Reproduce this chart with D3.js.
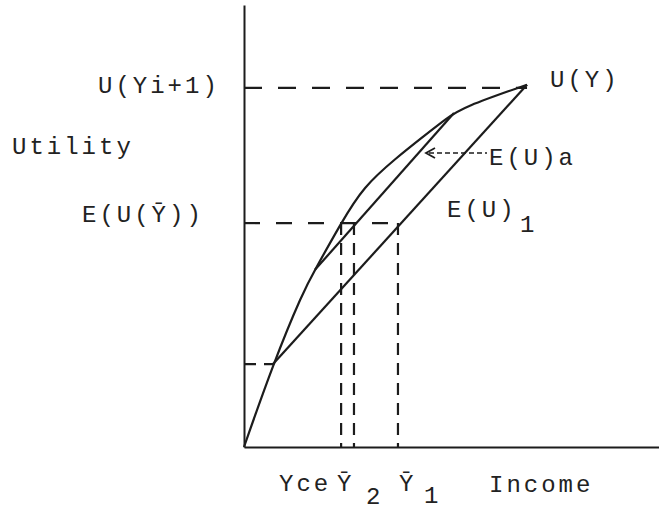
<!DOCTYPE html>
<html>
<head>
<meta charset="utf-8">
<script src="https://cdn.jsdelivr.net/npm/d3@7"></script>
<style>
  html, body { margin: 0; padding: 0; background: #fff; }
  svg { display: block; }
  .label { font-family: "Liberation Mono", "DejaVu Sans Mono", monospace;
           font-size: 24px; letter-spacing: 3px; fill: #222; }
</style>
</head>
<body>
<script>
/*
 * Utility of income: concave utility curve with two chords (expected utility)
 * and the certainty equivalent / mean income guide lines.
 */

// canvas
const CANVAS_WIDTH = 659;
const CANVAS_HEIGHT = 512;
const ORIGIN_X = 244;
const ORIGIN_Y = 447;
const INK = '#1c1c1c';

// the utility curve U(Y) (income, utility)
const CURVE_INCOME = [0, 7.0, 14.2, 17.1, 23.4, 28.7, 36.9, 43.1, 48.9, 52.8, 68.2];
const CURVE_UTILITY = [0, 22.9, 42.8, 48.9, 61.8, 71.8, 80.0, 85.6, 90.8, 93.8, 100];

// chord E(U)1 and chord E(U)a (end points on the curve)
const CHORD_1_INCOME = [7.0, 68.2];
const CHORD_1_UTILITY = [22.9, 100];
const CHORD_A_INCOME = [17.1, 50.6];
const CHORD_A_UTILITY = [48.9, 92.2];

// guide levels
const U_TOP = 99.1;      // U(Yi+1)
const EU_MEAN = 61.8;    // E(U(Y bar))
const U_LOW = 22.9;      // lower end of chord 1
const Y_CE = 23.4;       // certainty equivalent
const Y_BAR_2 = 26.5;
const Y_BAR_1 = 37.1;

// scales
const xScale = d3.scaleLinear()
    .domain([0, 100])
    .range([ORIGIN_X, CANVAS_WIDTH]);

const yScale = d3.scaleLinear()
    .domain([0, 122])
    .range([ORIGIN_Y, 5]);

const svg = d3.select('body')
  .append('svg')
    .attr('width', CANVAS_WIDTH)
    .attr('height', CANVAS_HEIGHT);

/*
 * Axes (plain lines, no ticks).
 */

const addAxes = () => {
  svg.append('g')
      .attr('transform', `translate(0, ${ORIGIN_Y})`)
      .call(d3.axisBottom(xScale).ticks(0).tickSizeOuter(0))
      .call(g => g.select('.domain')
        .attr('stroke', INK)
        .attr('stroke-width', 2));

  svg.append('g')
      .attr('transform', `translate(${ORIGIN_X}, 0)`)
      .call(d3.axisLeft(yScale).ticks(0).tickSizeOuter(0))
      .call(g => g.select('.domain')
        .attr('stroke', INK)
        .attr('stroke-width', 2));
};

/*
 * Dashed guide lines.
 */

const addGuides = () => {
  const hGuides = [
    { y: U_TOP, x1: 0, x2: CURVE_INCOME[CURVE_INCOME.length - 1], dash: '18,16' },
    { y: EU_MEAN, x1: 0, x2: Y_BAR_1, dash: '16,16' },
    { y: U_LOW, x1: 0, x2: CHORD_1_INCOME[0], dash: '12,8' }
  ];

  svg.selectAll('.hguide')
    .data(hGuides)
    .enter()
    .append('line')
      .attr('class', 'hguide')
      .attr('x1', d => xScale(d.x1))
      .attr('x2', d => xScale(d.x2))
      .attr('y1', d => yScale(d.y))
      .attr('y2', d => yScale(d.y))
      .attr('stroke', INK)
      .attr('stroke-width', 2.2)
      .attr('stroke-dasharray', d => d.dash);

  svg.selectAll('.vguide')
    .data([Y_CE, Y_BAR_2, Y_BAR_1])
    .enter()
    .append('line')
      .attr('class', 'vguide')
      .attr('x1', d => xScale(d))
      .attr('x2', d => xScale(d))
      .attr('y1', yScale(EU_MEAN))
      .attr('y2', yScale(0))
      .attr('stroke', INK)
      .attr('stroke-width', 2.2)
      .attr('stroke-dasharray', '12,8');
};

/*
 * Utility curve and the two chords.
 */

const addCurves = () => {
  // smooth the hand-drawn curve through the points
  const curveLine = d3.line()
      .x(d => xScale(d[0]))
      .y(d => yScale(d[1]))
      .curve(d3.curveBasis);

  svg.append('path')
      .datum(d3.zip(CURVE_INCOME, CURVE_UTILITY))
      .attr('d', curveLine)
      .attr('fill', 'none')
      .attr('stroke', INK)
      .attr('stroke-width', 2.2);

  const chordLine = d3.line()
      .x(d => xScale(d[0]))
      .y(d => yScale(d[1]));

  [[CHORD_1_INCOME, CHORD_1_UTILITY], [CHORD_A_INCOME, CHORD_A_UTILITY]]
    .forEach(([xs, ys]) => {
      svg.append('path')
          .datum(d3.zip(xs, ys))
          .attr('d', chordLine)
          .attr('fill', 'none')
          .attr('stroke', INK)
          .attr('stroke-width', 2.2);
    });

  // dotted pointer to chord E(U)a
  svg.append('line')
      .attr('x1', 429).attr('x2', 487)
      .attr('y1', 153).attr('y2', 153)
      .attr('stroke', INK)
      .attr('stroke-width', 1.6)
      .attr('stroke-dasharray', '5,3');

  svg.append('path')
      .attr('d', 'M435,148 L426,153 L435,158')
      .attr('fill', 'none')
      .attr('stroke', INK)
      .attr('stroke-width', 1.8);
};

/*
 * Text labels.
 */

const addLabels = () => {
  const labels = [
    { x: 98, y: 93, t: 'U(Yi+1)' },
    { x: 12, y: 154, t: 'Utility' },
    { x: 82, y: 222, t: 'E(U(Ȳ))' },
    { x: 550, y: 87, t: 'U(Y)' },
    { x: 489, y: 165, t: 'E(U)a' },
    { x: 447, y: 217, t: 'E(U)' },
    { x: 520, y: 232, t: '1' },
    { x: 279, y: 491, t: 'Yce' },
    { x: 337, y: 491, t: 'Ȳ' },
    { x: 366, y: 504, t: '2' },
    { x: 399, y: 491, t: 'Ȳ' },
    { x: 424, y: 503, t: '1' },
    { x: 489, y: 492, t: 'Income' }
  ];

  svg.selectAll('.label')
    .data(labels)
    .enter()
    .append('text')
      .attr('class', 'label')
      .attr('x', d => d.x)
      .attr('y', d => d.y)
      .text(d => d.t);
};

addAxes();
addGuides();
addCurves();
addLabels();
</script>
</body>
</html>
